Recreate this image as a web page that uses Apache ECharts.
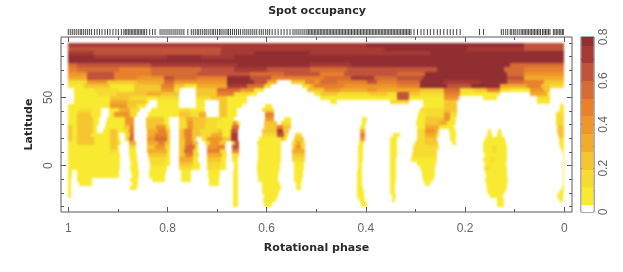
<!DOCTYPE html>
<html><head><meta charset="utf-8">
<style>html,body{margin:0;padding:0;background:#fff}
.layer{position:absolute;left:0;top:0;width:623px;height:272px}
#m{filter:blur(1.1px)}#c{filter:blur(0.3px)}</style>
<script src="https://cdn.jsdelivr.net/npm/echarts@6/dist/echarts.min.js"></script>
</head><body><div id="m" class="layer"></div><div id="c" class="layer"></div>
<script>
// Occupancy classes (index = letter/digit used in the rows below; a = 10)
const levelValues = [0, .07, .15, .23, .31, .39, .47, .55, .63, .71, .78];
const levelColors = ['#ffffff','#f8ea30','#f6dc31','#f5c630','#f2ab2a','#ee962a','#e8802c','#d66c33','#c0533a','#a83a35','#912e32'];
const bandEdges = [0,.032,.113,.194,.275,.356,.437,.518,.599,.68,.761,.8];
const majorX = [0,.2,.4,.6,.8,1];
const minorX = [.1,.3,.5,.7,.9];
const majorY = [0,50];
const minorY = [-30,-20,-10,10,20,30,40,60,70,80,90];
const barTicks = [.1,.2,.3,.4,.5,.6,.7];
// top latitude of each 3-degree row
const rowLat = [90,87,84,81,78,75,72,69,66,63,60,57,54,51,48,45,42,39,36,33,30,27,24,21,18,15,12,9,6,3,0,-3,-6,-9,-12,-15,-18,-21,-24,-27];
// each row: runs from phase 1 towards phase 0, "endPhase(thousandths):class"
const rows = [
"400:9 82:a 0:8",
"693:8 364:9 196:a 82:9 0:8",
"949:9 693:8 626:9 512:a 270:9 0:a",
"949:a 801:9 733:a 666:9 0:a",
"0:a",
"982:7 834:8 660:9 512:a 431:9 109:a 0:7",
"982:6 898:7 834:6 733:7 666:8 599:9 512:8 438:7 257:8 122:a 82:7 0:6",
"962:5 908:8 834:6 740:7 633:8 566:7 492:8 445:6 337:8 280:7 116:a 82:7 0:5",
"962:4 908:8 861:6 808:5 787:8 740:7 680:6 633:a 592:8 485:6 431:7 384:9 337:7 284:8 116:a 82:8 0:4",
"962:2 921:5 861:3 808:4 787:7 680:5 626:a 599:8 579:4 552:0 522:3 505:6 492:5 458:7 398:6 378:8 337:6 290:7 243:a 169:9 116:a 82:7 41:6 0:3",
"969:1 915:3 868:1 814:3 787:6 767:3 740:1 680:4 640:9 606:7 592:2 529:0 512:2 505:4 445:6 398:5 337:5 290:6 236:a 189:8 129:a 75:4 48:6 28:3 0:2",
"988:0 949:1 898:2 868:1 814:3 787:5 774:2 742:0 700:3 653:7 626:5 606:1 518:0 485:3 452:5 398:4 378:5 290:4 243:3 210:7 183:2 156:3 129:6 109:2 69:1 41:5 28:3 0:0",
"988:0 942:1 901:2 841:3 814:4 777:3 742:0 700:3 666:6 633:2 619:1 505:0 492:1 458:3 391:2 357:3 337:2 314:8 290:3 243:2 210:6 190:1 129:1 69:0 35:4 28:1 0:0",
"988:0 915:1 875:3 844:2 821:1 777:2 742:0 713:2 680:3 640:1 492:0 391:1 337:1 314:8 243:1 213:5 163:0 136:1 55:0 28:2 0:0",
"988:0 915:1 881:4 844:3 838:1 821:0 777:1 742:0 724:1 697:0 680:3 640:1 472:0 458:1 351:0 314:2 284:0 243:1 216:3 55:0 28:1 0:0",
"915:1 881:5 861:3 844:1 821:0 777:1 742:0 724:1 697:0 680:3 650:1 603:0 589:1 284:0 243:1 216:3 8:0 0:1",
"978:1 952:2 935:1 918:0 898:1 875:4 855:2 834:0 777:1 754:2 724:1 697:0 680:3 660:1 609:0 586:2 290:0 243:2 216:3 11:0 0:1",
"982:1 955:3 935:1 918:0 908:1 875:5 861:2 840:0 777:1 754:3 736:2 722:4 697:0 680:3 660:1 603:0 586:6 294:0 280:1 243:2 230:5 216:2 16:0 0:2",
"982:1 950:3 938:1 921:0 885:1 868:5 844:0 808:3 797:1 777:0 762:2 748:4 722:3 690:2 666:1 603:0 586:5 566:0 552:1 408:0 398:1 297:0 280:1 243:3 230:5 218:1 16:0 0:2",
"982:1 950:3 938:1 924:0 885:1 868:5 844:0 808:3 797:1 777:0 760:2 748:5 722:3 700:2 668:1 660:5 653:1 606:0 579:3 572:0 552:2 408:0 400:1 299:0 280:1 253:3 236:4 219:1 16:0 0:2",
"992:3 982:1 950:3 942:1 926:0 888:1 875:3 868:6 844:0 824:3 804:5 794:1 777:0 760:2 748:5 725:3 700:2 670:1 656:7 606:0 579:3 568:6 552:3 411:0 401:1 297:0 280:1 253:4 222:1 15:0 0:3",
"992:3 982:1 950:3 942:1 930:0 915:1 901:3 885:1 878:2 868:6 842:0 820:4 804:6 794:3 777:0 767:3 750:6 735:3 700:2 690:3 672:1 658:8 609:0 579:3 568:9 556:3 411:0 401:4 297:0 280:2 258:5 253:3 233:0 219:1 153:0 148:1 134:0 127:1 15:0 0:3",
"992:3 982:1 955:3 915:1 901:3 898:1 885:0 876:2 868:7 842:0 825:4 800:6 794:3 777:0 767:3 750:6 735:3 713:2 690:4 672:1 658:9 609:0 579:2 566:8 558:2 542:0 529:2 411:0 401:6 345:0 332:1 297:0 280:2 258:4 253:2 230:0 219:1 156:0 146:1 136:0 125:1 13:0 0:3",
"992:3 982:1 948:3 915:1 901:3 896:1 885:0 878:2 868:7 842:0 825:5 800:7 794:3 777:0 765:3 750:6 742:3 730:0 720:2 690:5 672:3 658:9 616:0 572:1 566:3 560:1 545:0 525:3 411:0 401:5 351:0 337:1 297:0 280:2 256:3 230:0 219:1 160:0 119:1 11:0 0:2",
"982:1 948:3 915:1 900:3 893:1 878:0 864:4 841:0 820:4 805:6 794:3 777:0 765:3 748:6 738:3 724:0 715:2 697:5 683:3 670:0 663:3 656:8 619:0 572:1 549:0 540:2 530:4 522:2 414:0 404:1 352:0 337:1 302:0 280:2 255:3 226:0 219:1 163:0 118:1 11:0 0:1",
"915:1 901:3 898:1 878:0 863:2 842:0 825:3 805:5 795:2 777:0 765:3 745:7 738:2 720:0 700:5 685:6 670:0 656:8 617:0 572:1 549:0 542:2 530:5 522:2 416:0 405:1 352:0 337:1 305:0 253:2 163:0 146:1 136:2 116:1 8:0 0:1",
"915:1 901:2 898:1 878:0 864:1 842:0 800:4 795:1 777:0 767:3 748:7 738:2 720:0 695:6 683:2 670:0 656:6 617:0 572:1 549:0 522:4 416:0 406:1 352:0 337:1 305:0 257:2 163:0 146:1 136:2 116:1 5:0 0:1",
"895:1 878:0 861:1 840:0 800:3 794:1 777:0 765:3 748:6 736:2 720:0 690:4 680:1 670:0 656:2 618:0 572:1 548:0 522:3 416:0 406:1 352:0 338:1 308:0 257:2 160:0 116:1 3:0 0:1",
"895:1 875:0 861:1 838:0 803:2 795:1 777:0 748:4 738:1 720:0 692:3 682:1 670:0 657:1 618:0 572:1 548:0 522:2 416:0 406:1 352:0 339:1 309:0 257:1 163:0 150:1 140:2 116:1 2:0 0:1",
"895:1 873:0 859:1 836:0 805:2 795:1 777:0 748:3 735:1 720:0 692:2 682:1 665:0 657:1 620:0 574:1 545:0 524:1 416:0 407:1 352:0 339:1 297:0 258:1 160:0 117:1 2:0 0:1",
"895:1 875:0 859:1 836:0 801:1 777:0 749:2 735:1 720:0 694:2 682:1 666:0 657:1 620:0 574:1 545:0 524:1 416:0 407:1 352:0 339:1 290:0 260:1 161:0 150:2 115:1 2:0 0:1",
"992:1 982:0 898:1 874:0 858:1 838:0 803:1 772:0 752:1 718:0 695:1 668:0 657:1 620:0 576:1 545:0 527:1 417:0 407:1 352:0 339:1 287:0 260:1 160:0 116:1 2:0 0:1",
"992:1 982:0 898:1 872:0 858:1 838:0 806:1 772:0 752:1 718:0 695:1 668:0 657:1 618:0 578:1 545:0 527:1 417:0 407:1 352:0 340:1 286:0 261:1 158:0 115:1 2:0 0:1",
"994:1 982:0 952:1 875:0 860:1 832:0 806:1 772:0 752:1 716:0 697:1 668:0 657:1 618:0 578:1 545:0 528:1 417:0 407:1 352:0 340:1 284:0 264:1 160:0 114:1 2:0 0:1",
"994:1 978:0 952:1 872:0 860:1 716:0 697:1 668:0 657:1 610:0 573:1 540:0 530:1 417:0 407:1 352:0 342:1 281:0 270:1 158:0 115:1 3:0 0:1",
"994:1 875:0 862:1 668:0 657:1 609:0 572:1 540:0 530:1 417:0 405:1 352:0 342:1 155:0 116:1 4:0 0:1",
"994:1 668:0 657:1 609:0 575:1 417:0 404:1 351:0 342:1 156:0 120:1 11:0 0:1",
"994:1 668:0 657:1 606:0 578:1 417:0 404:1 348:0 340:1 150:0 123:1 14:0 2:1 0:0",
"668:0 657:1 608:0 582:1 413:0 402:1 347:0 341:1 136:0 122:1 11:0 3:1 0:0",
"668:0 657:1 606:0 590:1 410:0 398:1 136:0 122:1 0:0"
];
// observation phases in thousandths (rug along the top)
const rugPhases = [1000,996,992,988,984,980,976,973,969,965,961,957,953,
947,942,937,932,926,921,916,910,904,899,893,888,885,882,879,876,873,870,867,864,861,858,855,852,849,846,842,836,830,825,
815,811,807,803,799,795,791,787,783,779,775,771,767,759,752,748,744,740,737,733,729,725,722,718,714,710,707,703,699,695,692,688,684,680,677,
673,669,665,661,657,653,648,644,640,636,632,628,624,620,615,611,607,602,598,594,
589,583,577,571,565,559,553,547,543,539,535,531,527,523,519,
516,513,510,507,504,501,498,495,492,489,486,483,480,477,474,471,468,465,462,459,456,453,450,447,444,441,438,435,432,429,426,423,420,417,
414,411,408,405,402,399,396,393,390,387,384,381,378,375,372,369,366,363,360,357,354,351,348,345,342,339,336,333,330,327,324,321,318,315,312,309,
303,296,289,283,276,270,263,256,250,243,236,230,224,217,210,
171,163,
127,123,118,114,109,106,102,99,95,91,87,84,81,78,75,72,69,66,63,60,57,54,51,48,44,41,38,35,32,29,22,19,16,13,10,7,4,2];

const cells = [];
rows.forEach((row, i) => {
  let start = 1000;
  row.split(' ').forEach(tok => {
    const [end, cls] = tok.split(':');
    const e = +end, k = cls === 'a' ? 10 : +cls;
    if (k > 0) cells.push([start / 1000, e / 1000, rowLat[i], rowLat[i] - 3, levelValues[k]]);
    start = e;
  });
});
const bands = levelColors.map((c, i) => [bandEdges[i], bandEdges[i + 1], i]);
const rug = rugPhases.map(p => [p / 1000, 0.5]);

const INK = '#5a5a5a', TXT = '#666', HEAD = '#2a2a2a';
const XMIN = -0.0155, XMAX = 1.0147, YMIN = -34, YMAX = 94.3;
const box = {left: 61, right: 51, top: 37, bottom: 60};
function xAx(gridIndex, position, vals, len, extra) {
  return Object.assign({type: 'value', gridIndex, position, min: XMIN, max: XMAX, inverse: true,
    axisLine: {show: false, onZero: false}, splitLine: {show: false}, axisLabel: {show: false},
    axisTick: {show: true, inside: true, length: len, customValues: vals, lineStyle: {color: INK}}}, extra || {});
}
function yAx(gridIndex, position, vals, len, extra) {
  return Object.assign({type: 'value', gridIndex, position, min: YMIN, max: YMAX,
    axisLine: {show: false, onZero: false}, splitLine: {show: false}, axisLabel: {show: false},
    axisTick: {show: true, inside: true, length: len, customValues: vals, lineStyle: {color: INK}}}, extra || {});
}
// the map itself, in the same plot box, softened underneath the frame
echarts.init(document.getElementById('m')).setOption({
  animation: false,
  grid: box,
  xAxis: {type: 'value', min: XMIN, max: XMAX, inverse: true, show: false},
  yAxis: {type: 'value', min: YMIN, max: YMAX, show: false},
  series: [{type: 'custom', data: cells, silent: true, clip: true,
    encode: {x: [0, 1], y: [2, 3]},
    renderItem(params, api) {
      const a = api.coord([api.value(0), api.value(2)]);
      const b = api.coord([api.value(1), api.value(3)]);
      const x0 = Math.round(a[0]), x1 = Math.round(b[0]), y0 = Math.round(a[1]), y1 = Math.round(b[1]);
      return {type: 'rect', shape: {x: x0, y: y0, width: x1 - x0, height: y1 - y0},
        style: {fill: levelColors[levelValues.indexOf(api.value(4))]}};
    }}]
});
const option = {
  animation: false,
  title: {text: 'Spot occupancy', left: 312, top: 1, textAlign: 'center',
    textStyle: {fontFamily: 'DejaVu Sans', fontWeight: 'bold', fontSize: 11, color: HEAD}},
  grid: [
    Object.assign({show: true, borderColor: INK, borderWidth: 1, backgroundColor: 'transparent'}, box),
    box,
    {left: 61, right: 51, top: 29, height: 6},
    {left: 581, right: 29, top: 37, bottom: 60, show: true, borderColor: INK, borderWidth: 1}
  ],
  xAxis: [
    xAx(0, 'bottom', majorX, 5, {
      name: 'Rotational phase', nameLocation: 'middle', nameGap: 31,
      nameTextStyle: {fontFamily: 'DejaVu Sans', fontWeight: 'bold', fontSize: 11, color: HEAD},
      axisLabel: {show: true, customValues: majorX, color: TXT, fontFamily: 'Liberation Sans', fontSize: 12, margin: 11,
        formatter: v => String(+v.toFixed(1))}}),
    xAx(0, 'top', majorX, 5),
    xAx(1, 'bottom', minorX, 3),
    xAx(1, 'top', minorX, 3),
    {type: 'value', gridIndex: 2, min: XMIN, max: XMAX, inverse: true, show: false},
    {type: 'value', gridIndex: 3, min: 0, max: 1, show: false}
  ],
  yAxis: [
    yAx(0, 'left', majorY, 5, {
      name: 'Latitude', nameLocation: 'middle', nameGap: 21,
      nameTextStyle: {fontFamily: 'DejaVu Sans', fontWeight: 'bold', fontSize: 11, color: HEAD},
      axisLabel: {show: true, customValues: majorY, rotate: 90, color: TXT, fontFamily: 'Liberation Sans', fontSize: 12, margin: 6}}),
    yAx(0, 'right', majorY, 5),
    yAx(1, 'left', minorY, 3),
    yAx(1, 'right', minorY, 3),
    {type: 'value', gridIndex: 2, min: 0, max: 1, show: false},
    {type: 'value', gridIndex: 3, position: 'right', min: 0, max: .8, interval: .2,
      axisLine: {show: false, onZero: false}, splitLine: {show: false},
      axisTick: {show: true, inside: true, length: 2, customValues: barTicks, lineStyle: {color: INK}},
      axisLabel: {rotate: 90, color: TXT, fontFamily: 'Liberation Sans', fontSize: 12, margin: 4,
        formatter: v => String(+v.toFixed(1))}},
    {type: 'value', gridIndex: 3, position: 'left', min: 0, max: .8, interval: .2,
      axisLine: {show: false, onZero: false}, splitLine: {show: false}, axisLabel: {show: false},
      axisTick: {show: true, inside: true, length: 2, customValues: barTicks, lineStyle: {color: INK}}}
  ],
  series: [
    {type: 'scatter', xAxisIndex: 4, yAxisIndex: 4, data: rug, silent: true, clip: false,
      symbol: 'rect', symbolSize: [1, 6], itemStyle: {color: '#222', opacity: 0.85}},
    {type: 'custom', xAxisIndex: 5, yAxisIndex: 5, data: bands, silent: true, z: 1,
      encode: {y: [0, 1]},
      renderItem(params, api) {
        const a = api.coord([0, api.value(1)]);
        const b = api.coord([1, api.value(0)]);
        return {type: 'rect', shape: {x: a[0] + 0.5, y: Math.round(a[1]), width: b[0] - a[0] - 1, height: Math.round(b[1]) - Math.round(a[1])},
          style: {fill: levelColors[api.value(2)]}};
      }}
  ]
};
echarts.init(document.getElementById('c')).setOption(option);
</script></body></html>
